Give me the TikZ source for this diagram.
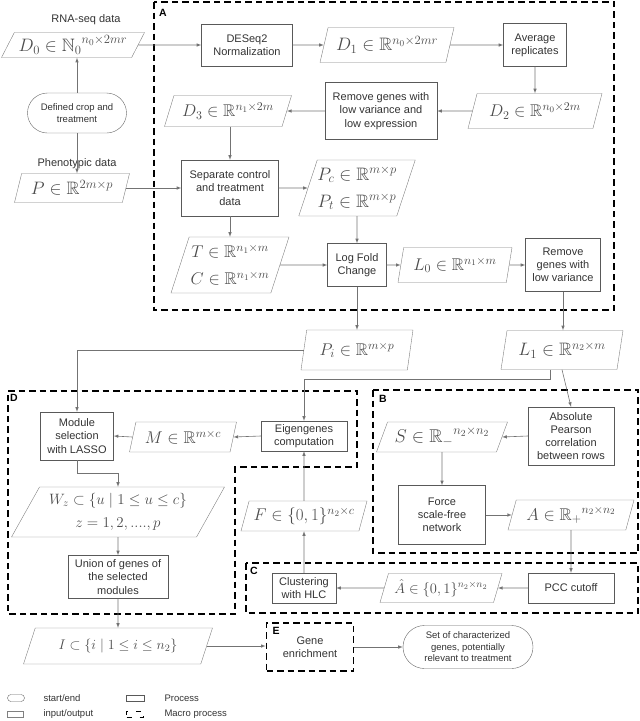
\documentclass[tikz,border=0pt]{standalone}
\usepackage{fix-cm}
\usepackage[no-math]{fontspec}
\usepackage{amssymb}
\newfontfamily\arialfont{Liberation Sans}
\newcommand\mathsz[1]{\fontsize{#1}{27}\selectfont}
\usetikzlibrary{arrows,shapes}

\tikzset{
  proc/.style={draw=black!65, rectangle, align=center, text=black!80, inner sep=2pt,
    font=\arialfont\fontsize{11}{13.2}\selectfont},
  lean/.style={trapezium left angle=#1, trapezium right angle=180-#1},
  io/.style={draw=black!50, trapezium, lean=65, trapezium stretches body,
    align=center, text=black!70, inner sep=0pt, font=\mathsz{17}},
  term/.style={draw=black!60, rounded rectangle, align=center, text=black!80, inner sep=1pt,
    font=\arialfont\fontsize{9.5}{11.5}\selectfont},
  macro/.style={draw=black, line width=1.8pt, dash pattern=on 6.5pt off 4pt},
  tag/.style={font=\arialfont\bfseries\fontsize{10.5}{12}\selectfont},
  note/.style={text=black!80, font=\arialfont\fontsize{11}{13}\selectfont},
  keytext/.style={anchor=west, text=black!80, font=\arialfont\fontsize{9.5}{11}\selectfont},
  conn/.style={draw=black!55, line width=0.6pt, -latex},
}

\begin{document}
\begin{tikzpicture}[x=1pt,y=-1pt]
\useasboundingbox (0,0) rectangle (640,721);

\draw [macro] (154,2) rectangle (614,310);
\draw [macro] (8,391) -- (357,391) -- (357,467) -- (235,467) -- (235,614) -- (8,614) -- cycle;
\draw [macro] (373,390) rectangle (638,553);
\draw [macro] (246,563) rectangle (638,613);
\node at (163,13) [tag] (tagA) {A};
\node at (383,399) [tag] (tagB) {B};
\node at (254,571) [tag] (tagC) {C};
\node at (14,398) [tag] (tagD) {D};
\node at (276,631) [tag] (tagE) {E};

\node at (86,20) [note] (rnalbl) {RNA-seq data};
\node at (73,45) [io, lean=55, minimum width=143pt, minimum height=25pt, font=\mathsz{18}] (d0) {$D_0 \in {\mathbb{N}_0}^{n_0\times 2mr}$};
\node at (77,113) [term, minimum width=101pt, minimum height=40pt] (crop) {Defined crop and\\treatment};
\node at (77,164) [note] (phenolbl) {Phenotypic data};
\node at (72,188) [io, minimum width=115pt, minimum height=29pt, font=\mathsz{18}] (p) {$P \in \mathbb{R}^{2m\times p}$};

\node at (247,45) [proc, minimum width=91pt, minimum height=42pt] (deseq) {DESeq2\\Normalization};
\node at (387,45) [io, minimum width=134pt, minimum height=35pt, font=\mathsz{18}] (d1) {$D_1 \in \mathbb{R}^{n_0\times 2mr}$};
\node at (535,45) [proc, minimum width=63pt, minimum height=43pt] (avg) {Average\\replicates};
\node at (535,111) [io, lean=61, minimum width=134pt, minimum height=35pt] (d2) {$D_2 \in \mathbb{R}^{n_0\times 2m}$};
\node at (381,111) [proc, minimum width=112pt, minimum height=57pt] (remove1) {Remove genes with\\low variance and\\low expression};
\node at (228,111) [io, lean=60, minimum width=127pt, minimum height=31pt] (d3) {$D_3 \in \mathbb{R}^{n_1\times 2m}$};
\node at (230,188) [proc, minimum width=97pt, minimum height=56pt] (sep) {Separate control\\and treatment\\data};
\node at (357,188) [io, lean=67, minimum width=115pt, minimum height=56pt, font=\mathsz{18}] (pct) {$P_c \in \mathbb{R}^{m\times p}$\\$P_t \in \mathbb{R}^{m\times p}$};
\node at (230,265) [io, lean=66, minimum width=118pt, minimum height=56pt] (tc) {$T \in \mathbb{R}^{n_1\times m}$\\$C \in \mathbb{R}^{n_1\times m}$};
\node at (357,265) [proc, minimum width=59pt, minimum height=43pt] (lfc) {Log Fold\\Change};
\node at (455,265) [io, lean=70, minimum width=114pt, minimum height=35pt] (l0) {$L_0 \in \mathbb{R}^{n_1\times m}$};
\node at (563,265) [proc, minimum width=75pt, minimum height=53pt] (remove2) {Remove\\genes with\\low variance};
\node at (357,350) [io, lean=70, minimum width=112pt, minimum height=40pt] (pi) {$P_i \in \mathbb{R}^{m\times p}$};
\node at (562,350) [io, lean=70, minimum width=122pt, minimum height=39pt, font=\mathsz{18}] (l1) {$L_1 \in \mathbb{R}^{n_2\times m}$};

\node at (77,436) [proc, minimum width=73pt, minimum height=48pt] (module) {Module\\selection\\with LASSO};
\node at (183,437) [io, minimum width=107pt, minimum height=30pt] (m) {$M \in \mathbb{R}^{m\times c}$};
\node at (304,436) [proc, minimum width=86pt, minimum height=30pt] (eigen) {Eigengenes\\computation};
\node at (118,512) [io, lean=53, minimum width=213pt, minimum height=50pt, font=\fontsize{15}{23}\selectfont] (w) {$W_z \subset \{u \mid 1 \leq u \leq c\}$\\$z = 1,2,....,p$};
\node at (118,577) [proc, minimum width=100pt, minimum height=43pt] (union) {Union of genes of\\the selected\\modules};

\node at (571,436) [proc, minimum width=86pt, minimum height=58pt] (pearson) {Absolute\\Pearson\\correlation\\between rows};
\node at (442,437) [io, lean=60, minimum width=131pt, minimum height=30pt, font=\mathsz{18.5}] (s) {$S \in {\mathbb{R}_-}^{n_2\times n_2}$};
\node at (442,515) [proc, minimum width=87pt, minimum height=59pt] (force) {Force\\scale-free\\network};
\node at (571,515) [io, minimum width=126pt, minimum height=30pt] (a) {$A \in {\mathbb{R}_+}^{n_2\times n_2}$};
\node at (304,516) [io, minimum width=126pt, minimum height=30pt] (f) {$F \in \{0,1\}^{n_2\times c}$};
\node at (571,588) [proc, minimum width=86pt, minimum height=30pt] (pcc) {PCC cutoff};
\node at (441,588) [io, lean=64, minimum width=122pt, minimum height=29pt, font=\mathsz{14.5}] (ahat) {$\hat{A} \in \{0,1\}^{n_2\times n_2}$};
\node at (304,588) [proc, minimum width=64pt, minimum height=30pt] (clust) {Clustering\\with HLC};

\node at (118,646) [io, lean=50, minimum width=189pt, minimum height=36pt, font=\mathsz{14}] (i) {$I \subset \{i \mid 1 \leq i \leq n_2\}$};
\node at (310,647) [proc, macro, minimum width=87pt, minimum height=48pt] (gene) {Gene\\enrichment};
\node at (468,647) [term, minimum width=132pt, minimum height=43pt] (set) {Set of characterized\\genes, potentially\\relevant to treatment};

\node at (16,698) [term, minimum width=17pt, minimum height=7pt, inner sep=0pt] (kterm) {};
\node at (40,698) [keytext] (kterml) {start/end};
\node at (15,714) [io, lean=50, minimum width=16pt, minimum height=6pt] (kio) {};
\node at (40,714) [keytext] (kiol) {input/output};
\node at (135,698) [proc, minimum width=18pt, minimum height=6pt, inner sep=0pt] (kproc) {};
\node at (161,698) [keytext] (kprocl) {Process};
\node at (135,714) [macro, line width=1pt, dash pattern=on 5pt off 8pt, minimum width=17pt, minimum height=6pt, inner sep=0pt] (kmacro) {};
\node at (161,714) [keytext] (kmacrol) {Macro process};

\coordinate (j1) at (304,379);

\draw [conn] (crop.north) -- (crop.north |- d0.south);
\draw [conn] (crop.south) -- (crop.south |- p.north);
\draw [conn] (d0.east) -- (deseq.west);
\draw [conn] (deseq.east) -- (d1.west);
\draw [conn] (d1.east) -- (avg.west);
\draw [conn] (avg.south) -- (d2.north);
\draw [conn] (d2.west) -- (remove1.east);
\draw [conn] (remove1.west) -- (d3.east);
\draw [conn] (d3.south -| sep.north) -- (sep.north);
\draw [conn] (p.east) -- (sep.west);
\draw [conn] (sep.east) -- (pct.west);
\draw [conn] (sep.south) -- (sep.south |- tc.north);
\draw [conn] (pct.south) -- (lfc.north);
\draw [conn] (tc.east) -- (lfc.west);
\draw [conn] (lfc.east) -- (l0.west);
\draw [conn] (l0.east) -- (remove2.west);
\draw [conn] (lfc.south) -- (pi.north);
\draw [conn] (remove2.south) -- (remove2.south |- l1.north);
\draw [conn] (pi.west) -| (module.north);
\draw [conn] ([xshift=-12pt]l1.south) |- (j1) -- (eigen.north);
\draw [conn] (l1.south) -- (pearson.north);
\draw [conn] (pearson.west) -- (s.east);
\draw [conn] (s.south) -- (force.north);
\draw [conn] (force.east) -- (force.east -| a.west);
\draw [conn] (a.south) -- (pcc.north);
\draw [conn] (pcc.west) -- (ahat.east);
\draw [conn] (ahat.west) -- (clust.east);
\draw [conn] (clust.north) -- (f.south);
\draw [conn] (f.north) -- (eigen.south);
\draw [conn] (eigen.west) -- (m.east);
\draw [conn] (m.west) -- (module.east);
\draw [conn] (module.south) -- ++(0,13) -| (w.north);
\draw [conn] (w.south) -- (union.north);
\draw [conn] (union.south) -- (i.north);
\draw [conn] (i.east) -- (i.east -| gene.west);
\draw [conn] (gene.east) -- (set.west);
\end{tikzpicture}
\end{document}
